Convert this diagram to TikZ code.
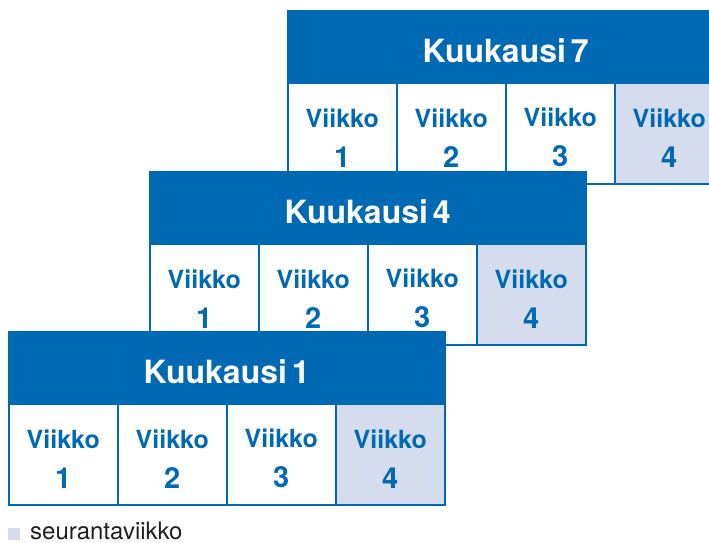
\documentclass[tikz,border=0pt]{standalone}
\usepackage{fontspec}
\setmainfont{TeX Gyre Heros}
\usetikzlibrary{positioning}
\definecolor{kblue}{HTML}{0069B4}
\definecolor{kpale}{HTML}{D4DCEE}
\definecolor{kgray}{HTML}{231F20}
\tikzset{
  monthhead/.style={draw=kblue, fill=kblue, line width=1.5pt, minimum width=436pt,
    minimum height=72pt, anchor=north west, inner sep=0pt, text=white,
    text height=31pt, text depth=0pt, font=\bfseries\fontsize{32}{32}\selectfont},
  weekcell/.style={draw=kblue, line width=1.5pt, minimum width=109pt,
    minimum height=101pt, anchor=north west, inner sep=0pt},
  weektext/.style={text=kblue, align=center, inner sep=0pt,
    font=\bfseries\fontsize{25}{40}\selectfont},
}
\newcommand{\weeknum}[1]{{\fontsize{29}{40}\selectfont #1}}

\begin{document}
\begin{tikzpicture}[x=1pt, y=-1pt]
\clip (0,0) rectangle (709,542);
% Months, back to front
\foreach \m/\x/\y in {7/287/10, 4/149/171, 1/8/331} {
    \node[monthhead] (m\m) at (\x,\y) {Kuukausi\kern5pt\m};
    % Weeks
    \foreach \w/\c in {1/white, 2/white, 3/white, 4/kpale} {
        \node[weekcell, fill=\c] (m\m w\w) at (\x+\w*109-109, \y+72) {};
        \node[weektext] (m\m t\w) at ([yshift=-4.5pt]m\m w\w.center) {Viikko\\\weeknum{\w}};
    }
}
% Legend
\node[fill=kpale, minimum size=12pt, inner sep=0pt, anchor=north west] (key) at (8,528) {};
\node[anchor=base west, inner sep=0pt, text=kgray, font=\fontsize{24}{24}\selectfont] (keytext) at (30,539) {seurantaviikko};
\end{tikzpicture}
\end{document}
